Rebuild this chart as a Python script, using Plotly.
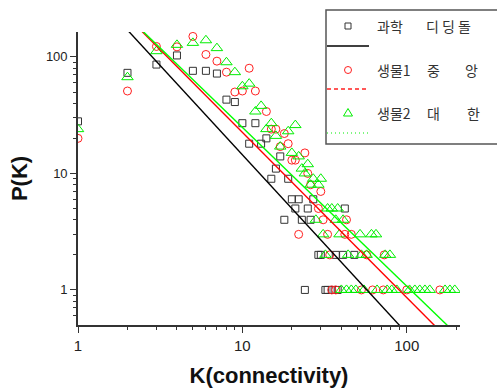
import plotly.graph_objects as go

# ---------------- data ----------------
# 과학 (black squares)
sq_k = [1, 2, 3, 4, 5, 6, 7, 8, 9, 10, 11, 12, 13, 14, 15, 16, 17, 18, 19, 20, 21, 22, 23,
        24, 25, 26, 27, 29, 30, 32, 33, 35, 37, 38, 41, 42, 48]
sq_p = [28, 73, 86, 103, 76, 76, 72, 43, 41, 27, 18, 27, 18, 20, 9, 11, 14, 4, 9, 6, 5, 6, 4,
        1, 5, 4, 6, 2, 2, 1, 1, 1, 2, 1, 2, 5, 2]

# 생물1 (red circles)
ci_k = [1, 2, 3, 4, 5, 6, 7, 8, 9, 10, 11, 12, 14, 15, 16, 17, 18, 19, 20, 21, 22, 24, 25,
        26, 29, 30, 31, 33, 34, 35, 37, 42, 43, 46, 53, 57, 62, 72, 73, 100, 159]
ci_p = [20, 51, 123, 122, 150, 105, 92, 74, 50, 51, 80, 51, 34, 24, 24, 17, 22, 18, 13, 13, 3, 15, 10,
        8, 5, 7, 4, 3, 2, 1, 1, 3, 4, 3, 1, 2, 1, 1, 2, 1, 1]

# 생물2 (green triangles)
tr_k = [1, 2, 3, 4, 5, 6, 7, 8, 9, 10, 11, 12, 13, 14, 15, 16, 17, 19, 20, 21, 22, 23, 24,
        25, 26, 27, 28, 29, 30, 31, 32, 33, 35, 37, 38, 39, 40, 41, 43, 44, 46, 49, 52, 53, 55,
        57, 61, 65, 66, 74, 76, 79, 81, 87, 104, 112, 120, 129, 138, 171, 183, 196]
tr_p = [24, 67, 112, 127, 132, 139, 119, 90, 74, 56, 59, 34, 38, 24, 27, 21, 17, 23, 15, 26, 14, 11, 10,
        12, 8, 9, 4, 8, 9, 3, 2, 5, 5, 4, 5, 3, 1, 4, 1, 2, 1, 1, 3, 2, 1,
        2, 3, 3, 1, 2, 1, 2, 1, 1, 1, 1, 1, 1, 1, 1, 1, 1]

# fitted power-law lines (end points, K -> P)
fit_k = [1, 200]
fit_black_p = [492, 0.147]
fit_red_p = [590, 0.322]
fit_green_p = [573, 0.419]

series_names = ["과학", "생물1", "생물2"]
legend_rows = [["과학", "디 딩 돌"], ["생물1", "중", "앙"], ["생물2", "대", "한"]]

# ---------------- figure ----------------
W, H = 497, 388
L, R, T, B = 78, 37, 32, 63
PW, PH = W - L - R, H - T - B

def px(p):
    return (p - L) / PW

def py(q):
    return (H - B - q) / PH

RED = "#ff2020"
GREEN = "#00ee00"

fig = go.Figure()
fig.add_trace(go.Scatter(x=sq_k, y=sq_p, mode="markers", name=series_names[0],
                         marker=dict(symbol="square-open", size=7, color="#333333", line=dict(width=1))))
fig.add_trace(go.Scatter(x=ci_k, y=ci_p, mode="markers", name=series_names[1],
                         marker=dict(symbol="circle-open", size=8, color=RED, line=dict(width=1))))
fig.add_trace(go.Scatter(x=tr_k, y=tr_p, mode="markers", name=series_names[2],
                         marker=dict(symbol="triangle-up-open", size=10, color=GREEN, line=dict(width=1))))
fig.add_trace(go.Scatter(x=fit_k, y=fit_black_p, mode="lines", line=dict(color="black", width=1.4)))
fig.add_trace(go.Scatter(x=fit_k, y=fit_red_p, mode="lines", line=dict(color="red", width=1.4)))
fig.add_trace(go.Scatter(x=fit_k, y=fit_green_p, mode="lines", line=dict(color="#00ff00", width=1.4)))

minor_vals = [2, 3, 4, 5, 6, 7, 8, 9, 20, 30, 40, 50, 60, 70, 80, 90, 200]
minor_y = [0.6, 0.7, 0.8, 0.9, 2, 3, 4, 5, 6, 7, 8, 9, 20, 30, 40, 50, 60, 70, 80, 90]
axis_common = dict(type="log", showgrid=False, zeroline=False, showline=True, linecolor="#333333",
                   linewidth=1.6, ticks="outside", ticklen=6, tickwidth=1.2, tickcolor="#333333",
                   tickmode="array", tickvals=[1, 10, 100], ticktext=["1", "10", "100"])

fig.update_layout(
    width=W, height=H, margin=dict(l=L, r=R, t=T, b=B, autoexpand=False),
    paper_bgcolor="white", plot_bgcolor="white", showlegend=False,
    font=dict(family="Liberation Sans, Arial, sans-serif", color="#222222"),
    xaxis=dict(**axis_common, range=[0, 2.324],
               tickfont=dict(size=15, color="#222222"),
               minor=dict(tickmode="array", tickvals=minor_vals, ticks="outside", ticklen=3,
                          tickwidth=1, tickcolor="#333333", showgrid=False),
               title=dict(text="<b>K(connectivity)</b>", font=dict(size=22, color="#111111"), standoff=16)),
    yaxis=dict(**axis_common, range=[-0.301, 2.214],
               tickfont=dict(size=13, color="#222222"),
               minor=dict(tickmode="array", tickvals=minor_y, ticks="outside", ticklen=3,
                          tickwidth=1, tickcolor="#333333", showgrid=False),
               title=dict(text="<b>P(K)</b>", font=dict(size=22, color="#111111"), standoff=12)),
)

# legend frame, line samples and marker samples
def pix_shape(kind, cx, cy, color, **geom):
    d = dict(type=kind, xref="paper", yref="paper", xsizemode="pixel", ysizemode="pixel",
             xanchor=px(cx), yanchor=py(cy), line=dict(color=color, width=1),
             fillcolor="rgba(0,0,0,0)", layer="above")
    d.update(geom)
    return d

shapes = [
    dict(type="rect", xref="paper", yref="paper", x0=px(326), x1=px(505), y0=py(144), y1=py(10),
         line=dict(color="#555555", width=1.5), fillcolor="rgba(255,255,255,0)", layer="above"),
    dict(type="line", xref="paper", yref="paper", x0=px(327), x1=px(369), y0=py(46), y1=py(46),
         line=dict(color="black", width=1.5)),
    dict(type="line", xref="paper", yref="paper", x0=px(327), x1=px(369), y0=py(89), y1=py(89),
         line=dict(color=RED, width=1.5, dash="4px,3px")),
    dict(type="line", xref="paper", yref="paper", x0=px(327), x1=px(369), y0=py(133), y1=py(133),
         line=dict(color=GREEN, width=1.2, dash="1px,3px")),
    pix_shape("rect", 348, 26, "#333333", x0=-3, x1=3, y0=-3, y1=3),
    pix_shape("circle", 348, 70, RED, x0=-3.5, x1=3.5, y0=-3.5, y1=3.5),
    pix_shape("path", 348, 113, GREEN, path="M -4.5 -3 L 4.5 -3 L 0 4.5 Z"),
]
fig.update_layout(shapes=shapes)

text_x = [[375, 424], [375, 425, 463], [375, 425, 465]]
text_y = [26, 70, 113]
anns = []
for row, xs, yy in zip(legend_rows, text_x, text_y):
    for txt, xx in zip(row, xs):
        anns.append(dict(text=txt, xref="paper", yref="paper", x=px(xx), y=py(yy),
                         xanchor="left", yanchor="middle", showarrow=False,
                         font=dict(family="Noto Sans CJK KR", size=14, color="#333333")))
fig.update_layout(annotations=anns)

# remove the default 8px page margin so the figure sits at the window's top-left corner
fig.write_html("out.html", config={"displayModeBar": False},
               post_script="document.body.style.margin='0';")
